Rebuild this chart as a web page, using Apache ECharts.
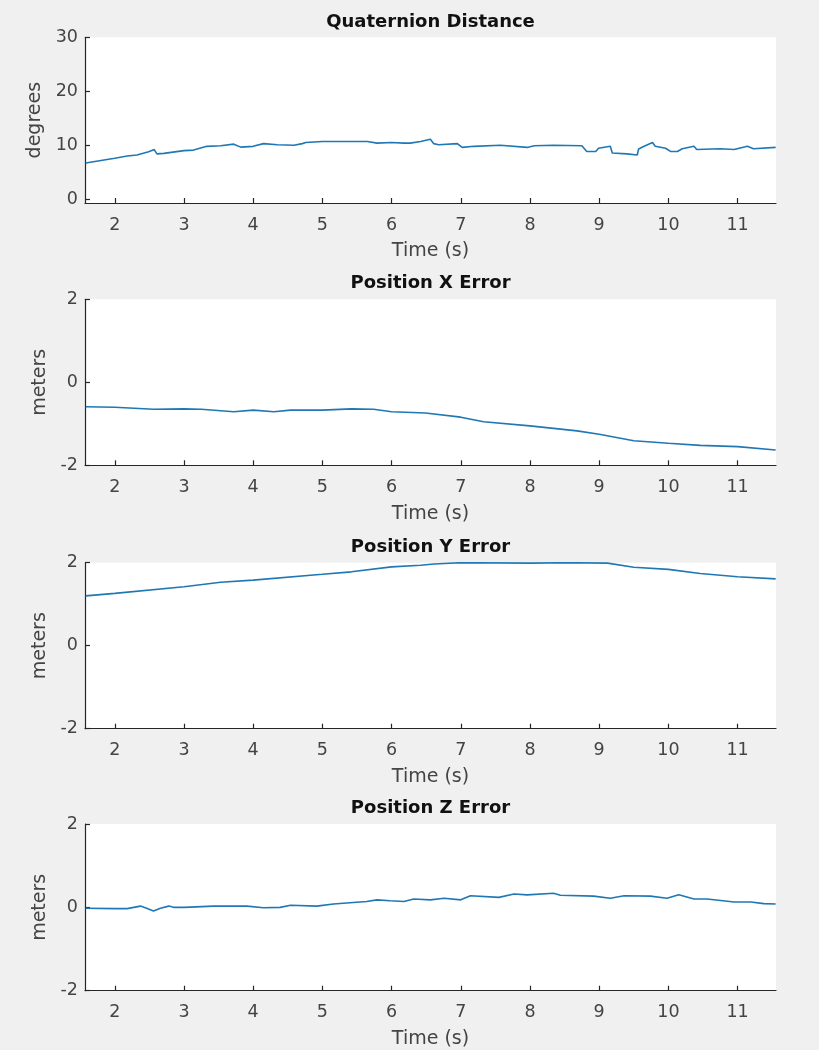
<!DOCTYPE html>
<html>
<head>
<meta charset="utf-8">
<script src="https://cdn.jsdelivr.net/npm/echarts@6/dist/echarts.min.js"></script>
<style>
html,body{margin:0;padding:0;background:#f0f0f0;}
#chart{width:819px;height:1050px;}
</style>
</head>
<body>
<div id="chart"></div>
<script>
// ---- Data ----
const titles = ['Quaternion Distance', 'Position X Error', 'Position Y Error', 'Position Z Error'];
const yNames = ['degrees', 'meters', 'meters', 'meters'];
const xName = 'Time (s)';
const xTicks = [2, 3, 4, 5, 6, 7, 8, 9, 10, 11];
const yTicksQ = [0, 10, 20, 30];
const yTicksPos = [-2, 0, 2];

const qdTime = [1.58, 2.0, 2.18, 2.32, 2.49, 2.57, 2.61, 2.71, 3.0, 3.14, 3.33, 3.53, 3.72, 3.82, 4.0, 4.15, 4.35, 4.59, 4.71, 4.76, 5.0, 5.18, 5.65, 5.79, 6.0, 6.18, 6.27, 6.42, 6.56, 6.61, 6.68, 6.95, 7.02, 7.19, 7.57, 7.96, 8.06, 8.34, 8.75, 8.82, 8.95, 8.99, 9.16, 9.19, 9.40, 9.55, 9.57, 9.65, 9.77, 9.81, 9.96, 10.03, 10.13, 10.20, 10.37, 10.41, 10.75, 10.95, 11.14, 11.23, 11.55];
const qdVal  = [6.7, 7.6, 8.0, 8.2, 8.8, 9.2, 8.4, 8.5, 9.0, 9.1, 9.8, 9.9, 10.2, 9.65, 9.8, 10.3, 10.1, 10.0, 10.3, 10.5, 10.7, 10.7, 10.7, 10.4, 10.5, 10.4, 10.4, 10.7, 11.1, 10.3, 10.1, 10.3, 9.6, 9.8, 10.0, 9.6, 9.9, 10.0, 9.9, 8.85, 8.85, 9.45, 9.8, 8.55, 8.4, 8.2, 9.3, 9.8, 10.5, 9.8, 9.45, 8.85, 8.85, 9.35, 9.8, 9.2, 9.35, 9.2, 9.8, 9.35, 9.6];

const pxTime = [1.58, 2.0, 2.56, 3.0, 3.25, 3.72, 4.0, 4.3, 4.54, 5.0, 5.42, 5.74, 6.0, 6.2, 6.49, 7.0, 7.33, 8.0, 8.68, 9.0, 9.5, 10.0, 10.46, 11.0, 11.55];
const pxVal  = [-0.59, -0.60, -0.65, -0.64, -0.65, -0.71, -0.67, -0.71, -0.67, -0.67, -0.64, -0.65, -0.71, -0.72, -0.74, -0.84, -0.95, -1.05, -1.17, -1.25, -1.41, -1.47, -1.52, -1.55, -1.63];

const pyTime = [1.58, 2.0, 3.0, 3.53, 4.0, 5.0, 5.42, 6.0, 6.42, 6.61, 7.0, 8.0, 8.54, 9.12, 9.5, 10.0, 10.46, 11.0, 11.55];
const pyVal  = [1.20, 1.26, 1.42, 1.53, 1.58, 1.72, 1.78, 1.90, 1.94, 1.97, 2.0, 1.99, 2.0, 1.99, 1.89, 1.84, 1.74, 1.66, 1.61];

const pzTime = [1.58, 2.0, 2.18, 2.37, 2.46, 2.56, 2.66, 2.78, 2.85, 3.0, 3.43, 3.91, 4.15, 4.39, 4.54, 4.92, 5.16, 5.64, 5.79, 5.98, 6.18, 6.32, 6.56, 6.76, 7.0, 7.14, 7.55, 7.77, 7.96, 8.34, 8.44, 8.92, 9.16, 9.36, 9.74, 9.98, 10.15, 10.37, 10.56, 10.95, 11.19, 11.38, 11.55];
const pzVal  = [-0.02, -0.03, -0.03, 0.03, -0.02, -0.09, -0.02, 0.03, 0.0, 0.0, 0.03, 0.03, -0.01, 0.0, 0.05, 0.03, 0.08, 0.14, 0.18, 0.16, 0.14, 0.20, 0.18, 0.22, 0.18, 0.28, 0.24, 0.32, 0.30, 0.34, 0.29, 0.27, 0.22, 0.28, 0.27, 0.22, 0.30, 0.20, 0.20, 0.13, 0.13, 0.09, 0.08];

// ---- Layout & style ----
const times = [qdTime, pxTime, pyTime, pzTime];
const vals = [qdVal, pxVal, pyVal, pzVal];
const gridTops = [37.3, 299.3, 562.7, 824];
const gridHeights = [165.7, 166, 166, 166.7];
const titleCenters = [22, 283, 547.5, 808.5];
const yNameGaps = [36.5, 30, 30, 30];
const yRanges = [[-0.7, 30], [-2, 2], [-2, 2], [-2, 2]];
const yTickSets = [yTicksQ, yTicksPos, yTicksPos, yTicksPos];

const FONT = 'DejaVu Sans';
const axisColor = '#262626';
const labelColor = '#444444';
const lineColor = '#1f78b4';

const grids = [], xAxes = [], yAxes = [], series = [], graphics = [];
for (let i = 0; i < 4; i++) {
  grids.push({
    left: 85, right: 43, top: gridTops[i], height: gridHeights[i],
    show: true, backgroundColor: '#ffffff', borderWidth: 0
  });
  xAxes.push({
    type: 'value', gridIndex: i, min: 1.57, max: 11.555,
    name: xName, nameLocation: 'middle', nameGap: 39,
    nameTextStyle: { fontFamily: FONT, fontSize: 19, color: labelColor },
    axisLine: { show: true, onZero: false, lineStyle: { color: axisColor, width: 1.2 } },
    axisTick: { show: true, inside: true, length: 5, customValues: xTicks, lineStyle: { color: axisColor, width: 1.2 } },
    axisLabel: { customValues: xTicks, margin: 13, fontFamily: FONT, fontSize: 17.5, color: labelColor },
    splitLine: { show: false }
  });
  yAxes.push({
    type: 'value', gridIndex: i, min: yRanges[i][0], max: yRanges[i][1],
    name: yNames[i], nameLocation: 'middle', nameGap: yNameGaps[i], nameRotate: 90,
    nameTextStyle: { fontFamily: FONT, fontSize: 19, color: labelColor },
    axisLine: { show: true, onZero: false, lineStyle: { color: axisColor, width: 1.2 } },
    axisTick: { show: true, inside: true, length: 5, customValues: yTickSets[i], lineStyle: { color: axisColor, width: 1.2 } },
    axisLabel: { customValues: yTickSets[i], margin: 7, fontFamily: FONT, fontSize: 17.5, color: labelColor },
    splitLine: { show: false }
  });
  series.push({
    type: 'line', xAxisIndex: i, yAxisIndex: i, showSymbol: false, symbol: 'none',
    data: times[i].map((t, k) => [t, vals[i][k]]),
    lineStyle: { color: lineColor, width: 1.6 }, animation: false
  });
  graphics.push({
    type: 'text', x: 430.5, y: titleCenters[i],
    style: { text: titles[i], fontFamily: FONT, fontWeight: 'bold', fontSize: 18, fill: '#111111', textAlign: 'center', textVerticalAlign: 'middle' }
  });
}

const chart = echarts.init(document.getElementById('chart'), null, { renderer: 'canvas' });
chart.setOption({
  backgroundColor: '#f0f0f0',
  animation: false,
  grid: grids, xAxis: xAxes, yAxis: yAxes, series: series,
  graphic: graphics
});
</script>
</body>
</html>
